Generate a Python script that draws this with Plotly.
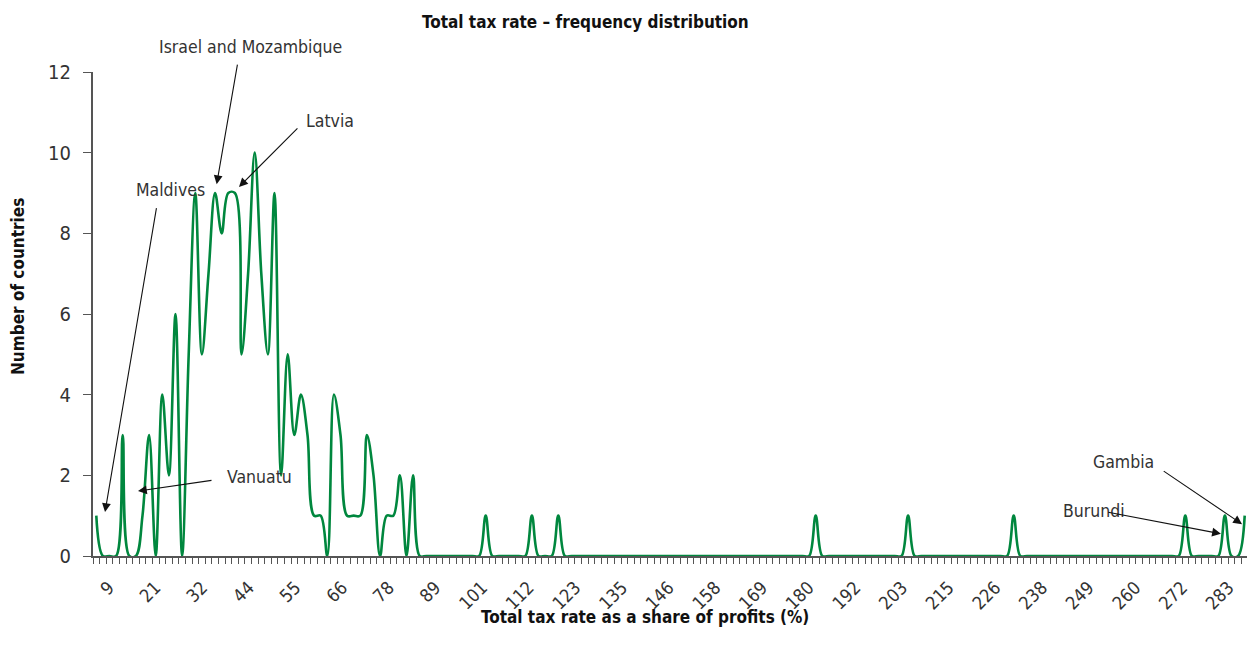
import plotly.graph_objects as go

# Number of countries in each tax-rate category (175 categories)
counts = [
    1, 0, 0, 0, 3, 0, 0, 1, 3, 0,
    4, 2, 6, 0, 5, 9, 5, 7, 9, 8,
    9, 9, 5, 7, 10, 7, 5, 9, 2, 5,
    3, 4, 3, 1, 1, 0, 4, 3, 1, 1,
    1, 3, 2, 0, 1, 1, 2, 0, 2, 0,
    0, 0, 0, 0, 0, 0, 0, 0, 0, 1,
    0, 0, 0, 0, 0, 0, 1, 0, 0, 0,
    1, 0, 0, 0, 0, 0, 0, 0, 0, 0,
    0, 0, 0, 0, 0, 0, 0, 0, 0, 0,
    0, 0, 0, 0, 0, 0, 0, 0, 0, 0,
    0, 0, 0, 0, 0, 0, 0, 0, 0, 1,
    0, 0, 0, 0, 0, 0, 0, 0, 0, 0,
    0, 0, 0, 1, 0, 0, 0, 0, 0, 0,
    0, 0, 0, 0, 0, 0, 0, 0, 0, 1,
    0, 0, 0, 0, 0, 0, 0, 0, 0, 0,
    0, 0, 0, 0, 0, 0, 0, 0, 0, 0,
    0, 0, 0, 0, 0, 1, 0, 0, 0, 0,
    0, 1, 0, 0, 1,
]
categories = list(range(len(counts)))

tick_labels = ["9", "21", "32", "44", "55", "66", "78", "89", "101", "112",
               "123", "135", "146", "158", "169", "180", "192", "203", "215",
               "226", "238", "249", "260", "272", "283"]
first_label_pos = 1.9
label_step = 7.07
tick_positions = [first_label_pos + label_step * j for j in range(len(tick_labels))]

FONT = "Liberation Sans Narrow, DejaVu Sans Condensed, Arial Narrow, sans-serif"
TXT = "#333333"
AX = "#555555"

fig = go.Figure()
fig.add_trace(go.Scatter(
    x=categories, y=counts, mode="lines",
    line=dict(color="#00873E", width=2.6, shape="spline", smoothing=1.0),
    hoverinfo="x+y", showlegend=False,
))

# annotations: (label, text_x, text_y, text_yref, tail_x, tail_y, head_x, head_y)
notes = [
    ("Maldives", 11.17, 9.07, "y", 9.15, 8.66, 1.32, 1.09),
    ("Vanuatu", 24.8, 1.96, "y", 17.68, 1.88, 6.32, 1.61),
    ("Israel and Mozambique", 23.3, 1.052, "paper", 21.42, 12.22, 18.24, 9.22),
    ("Latvia", 35.4, 10.79, "y", 30.7, 10.64, 21.62, 9.15),
    ("Gambia", 155.7, 2.33, "y", 161.5, 2.13, 173.6, 0.79),
    ("Burundi", 151.2, 1.12, "y", 153.1, 1.09, 170.4, 0.55),
]
anns = []
for label, tx, ty, tyref, ax_, ay_, hx, hy in notes:
    anns.append(dict(x=tx, y=ty, xref="x", yref=tyref, text=label, showarrow=False,
                     xanchor="center", yanchor="middle",
                     font=dict(family=FONT, size=17.5, color=TXT)))
    anns.append(dict(x=hx, y=hy, ax=ax_, ay=ay_, xref="x", yref="y",
                     axref="x", ayref="y", text="", showarrow=True,
                     arrowhead=2, arrowsize=1.6, arrowwidth=1.1, arrowcolor="#111111"))

# titles
anns.append(dict(x=0.4268, y=1.103, xref="paper", yref="paper", showarrow=False,
                 xanchor="center", yanchor="middle",
                 text="<b>Total tax rate – frequency distribution</b>",
                 font=dict(family=FONT, size=17, color="#111111")))
anns.append(dict(x=0.478, y=-0.126, xref="paper", yref="paper", showarrow=False,
                 xanchor="center", yanchor="middle",
                 text="<b>Total tax rate as a share of profits (%)</b>",
                 font=dict(family=FONT, size=17, color="#111111")))
anns.append(dict(x=-0.0649, y=0.556, xref="paper", yref="paper", showarrow=False,
                 xanchor="center", yanchor="middle",
                 textangle=-90, text="<b>Number of countries</b>",
                 font=dict(family=FONT, size=17, color="#111111")))

# the page body adds an 8px offset, so the figure is 8px smaller than the window
fig.update_layout(
    width=1247, height=647,
    margin=dict(l=85, r=7, t=64, b=99, autoexpand=False),
    paper_bgcolor="white", plot_bgcolor="white",
    font=dict(family=FONT, size=17, color=TXT),
    annotations=anns,
    xaxis=dict(
        range=[-0.5, len(counts) - 0.5], automargin=False,
        tickmode="array", tickvals=tick_positions, ticktext=tick_labels,
        tickangle=-45, ticks="outside", ticklen=12, tickcolor="rgba(0,0,0,0)",
        showgrid=False, zeroline=False,
        showline=True, linecolor=AX, linewidth=2,
        tickfont=dict(family=FONT, size=18, color=TXT),
        minor=dict(ticks="outside", tick0=-0.5, dtick=1, ticklen=6,
                   tickwidth=1, tickcolor=AX, showgrid=False),
    ),
    yaxis=dict(
        range=[0, 12], dtick=2, tick0=0, automargin=False,
        ticks="outside", ticklen=8, tickwidth=1, tickcolor=AX,
        ticklabelstandoff=8,
        showgrid=False, zeroline=False,
        showline=True, linecolor=AX, linewidth=2,
        tickfont=dict(family=FONT, size=20, color=TXT),
    ),
)

fig.write_html("out.html")
